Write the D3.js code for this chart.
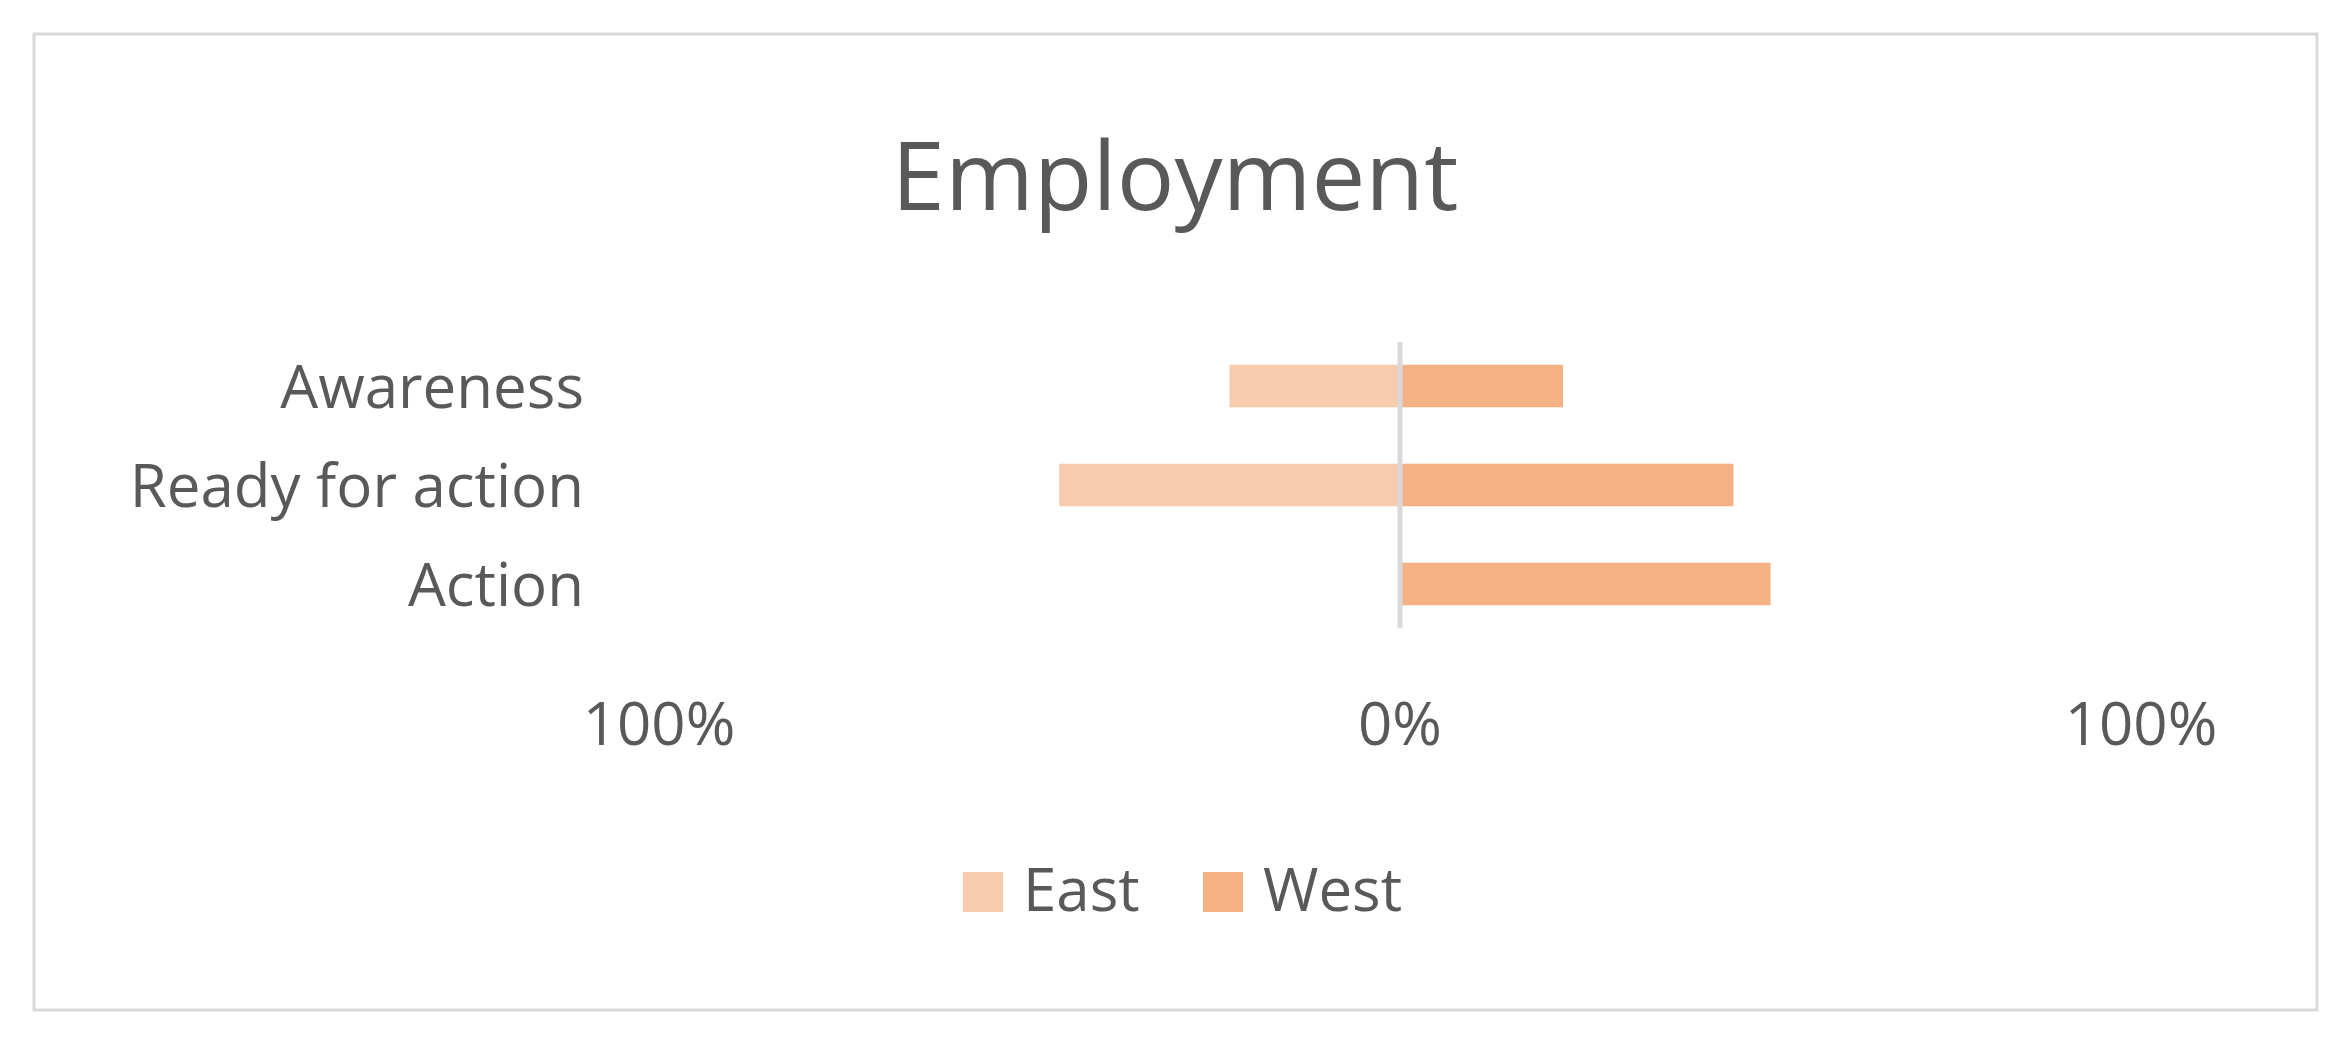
<!DOCTYPE html><html><head><meta charset="utf-8"><script src="https://cdn.jsdelivr.net/npm/d3@7"></script>
<style>body{margin:0;background:#fff}text{font-family:"Open Sans",sans-serif;fill:#595959}</style></head><body><svg id="c" width="2348" height="1043"></svg>
<script>
const categories=["Awareness","Ready for action","Action"];
const east=[23,46,0];
const west=[22,45,50];
const tickValues=[-100,0,100];
const tickLabels=["100%","0%","100%"];
const svg=d3.select("#c");
svg.append("rect").attr("x",34).attr("y",34).attr("width",2283).attr("height",976).attr("fill","#fff").attr("stroke","#d9d9d9").attr("stroke-width",3);
svg.append("text").attr("x",1175).attr("y",210).attr("text-anchor","middle").attr("font-size",96).text("Employment");
const x=d3.scaleLinear().domain([-100,100]).range([659,2141]);
const y=d3.scaleBand().domain(categories).range([340,630]).paddingInner(0.57).paddingOuter(0.25);
categories.forEach((c,i)=>{
 svg.append("rect").attr("x",x(-east[i])).attr("y",y(c)).attr("width",x(0)-x(-east[i])).attr("height",y.bandwidth()).attr("fill","#F8CBAD");
 svg.append("rect").attr("x",x(0)).attr("y",y(c)).attr("width",x(west[i])-x(0)).attr("height",y.bandwidth()).attr("fill","#F4B183");
 svg.append("text").attr("x",584).attr("y",y(c)+y.bandwidth()/2).attr("dy","0.36em").attr("text-anchor","end").attr("font-size",60).text(c);
});
svg.append("line").attr("x1",x(0)).attr("x2",x(0)).attr("y1",342).attr("y2",628).attr("stroke","#d9d9d9").attr("stroke-width",5);
tickValues.forEach((v,i)=>svg.append("text").attr("x",x(v)).attr("y",745).attr("text-anchor","middle").attr("font-size",60).text(tickLabels[i]));
const leg=[["East","#F8CBAD",963],["West","#F4B183",1203]];
leg.forEach(([n,col,lx])=>{svg.append("rect").attr("x",lx).attr("y",872).attr("width",40).attr("height",40).attr("fill",col);
 svg.append("text").attr("x",lx+60).attr("y",911).attr("font-size",60).text(n);});
</script></body></html>
